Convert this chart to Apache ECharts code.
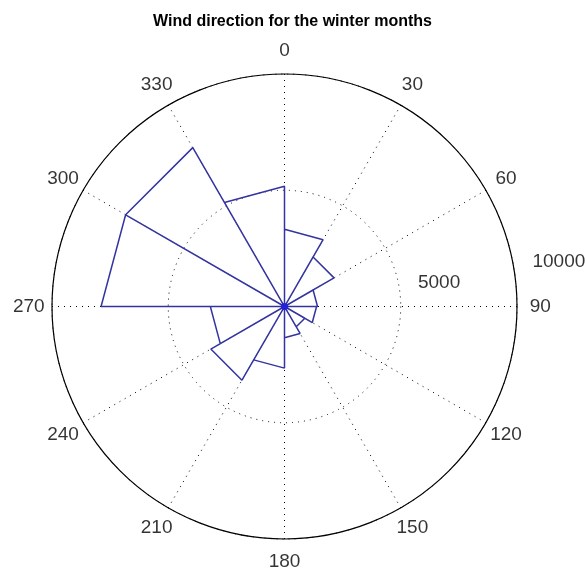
<!DOCTYPE html>
<html><head><meta charset="utf-8">
<script src="https://cdn.jsdelivr.net/npm/echarts@6/dist/echarts.min.js"></script>
<style>html,body{margin:0;padding:0;background:#fff}#c{width:585px;height:576px}</style>
</head><body><div id="c"></div>
<script>
// ---- data ----
const titleText = 'Wind direction for the winter months';
const binStart = [0, 30, 60, 90, 120, 150, 180, 210, 240, 270, 300, 330];
const binWidth = 30;
const counts = [3320, 2460, 1420, 1380, 1010, 1340, 2650, 3660, 3190, 7890, 7890, 5170];
const angleTicks = [0, 30, 60, 90, 120, 150, 180, 210, 240, 270, 300, 330];
const radialTicks = [5000, 10000];
const rMax = 10000;

// ---- build rose outline (MATLAB rose style triangles) ----
const rosePath = [];
binStart.forEach((a, i) => {
  rosePath.push([0, a], [counts[i], a], [counts[i], a + binWidth], [0, a + binWidth]);
});

const FONT = "'Liberation Sans', Arial, sans-serif";
const chart = echarts.init(document.getElementById('c'), null, {renderer: 'canvas'});
chart.setOption({
  animation: false,
  backgroundColor: '#fff',
  title: {
    text: titleText, left: 'center', top: 9,
    textStyle: {fontFamily: FONT, fontWeight: 'bold', fontSize: 16, color: '#000'}
  },
  polar: {center: [284.5, 306.5], radius: 232.5},
  angleAxis: {
    type: 'value', min: 0, max: 360, interval: 30, startAngle: 90, clockwise: true,
    axisLine: {show: true, lineStyle: {color: '#000', width: 1.2}},
    axisTick: {show: false}, axisLabel: {show: false},
    splitLine: {show: true, lineStyle: {color: '#000', width: 1, type: [1, 5]}}
  },
  radiusAxis: {
    type: 'value', min: 0, max: rMax, interval: 5000,
    axisLine: {show: false}, axisTick: {show: false}, axisLabel: {show: false},
    splitLine: {show: true, lineStyle: {color: '#000', width: 1, type: [1, 5]}}
  },
  series: [
    {
      type: 'line', coordinateSystem: 'polar', data: rosePath,
      showSymbol: false, symbol: 'none', smooth: false, silent: true,
      lineStyle: {color: '#3434a0', width: 1.5}, z: 3
    },
    {
      type: 'scatter', coordinateSystem: 'polar', data: [[0, 0]],
      symbol: 'circle', symbolSize: 7, itemStyle: {color: '#1e1ee6'}, silent: true, z: 4
    },
    {
      type: 'scatter', coordinateSystem: 'polar', clip: false,
      data: angleTicks.map(a => [rMax * 1.1, a]),
      symbolSize: 0, silent: true,
      label: {show: true, position: 'inside', formatter: p => String(p.value[1]),
        color: '#000', fontSize: 19, fontFamily: FONT}
    },
    {
      type: 'scatter', coordinateSystem: 'polar', clip: false,
      data: radialTicks.map(r => [r, 80]),
      symbolSize: 0, silent: true,
      label: {show: true, position: 'right', distance: 19, offset: [0, -4],
        formatter: p => String(p.value[0]), color: '#000', fontSize: 19, fontFamily: FONT}
    }
  ]
});
</script></body></html>
